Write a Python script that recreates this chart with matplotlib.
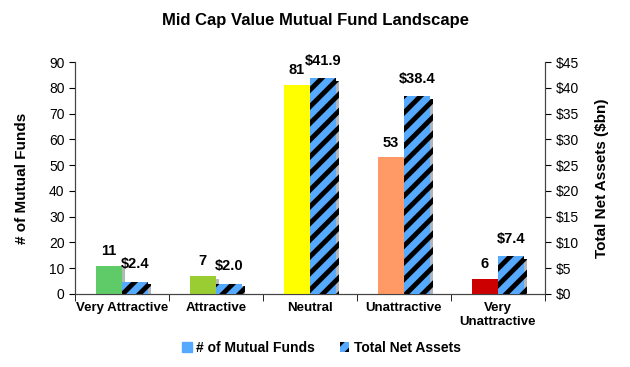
import matplotlib.pyplot as plt
import matplotlib.patheffects as pe
import numpy as np

categories = ['Very Attractive', 'Attractive', 'Neutral', 'Unattractive', 'Very\nUnattractive']
num_funds = [11, 7, 81, 53, 6]
net_assets = [2.4, 2.0, 41.9, 38.4, 7.4]
fund_colors = ['#5ecb68', '#9acd32', '#ffff00', '#ff9966', '#cc0000']

plt.rcParams['font.family'] = ['Liberation Sans', 'DejaVu Sans']
plt.rcParams['hatch.linewidth'] = 3.5

fig = plt.figure(figsize=(6.3, 3.67), dpi=100)
ax = fig.add_axes([0.119, 0.199, 0.746, 0.632])
ax2 = ax.twinx()

x = np.arange(len(categories))
w = 0.28
shadow = [pe.SimplePatchShadow(offset=(2, -2), alpha=0.35), pe.Normal()]

b1 = ax.bar(x - w / 2, num_funds, w, color=fund_colors, edgecolor='none',
            path_effects=shadow, zorder=3)
b2 = ax2.bar(x + w / 2, net_assets, w, color='#55aaff', edgecolor='black',
             linewidth=0, hatch='//', path_effects=shadow, zorder=3)

for xi, v in zip(x, num_funds):
    ax.text(xi - w / 2, v + 3, str(v), ha='center', va='bottom',
            fontsize=10.5, fontweight='bold')
for xi, v in zip(x, net_assets):
    ax2.text(xi + w / 2, v + 2.0, '$%.1f' % v, ha='center', va='bottom',
             fontsize=10.5, fontweight='bold')

ax.set_xlim(-0.5, len(categories) - 0.5)
ax.set_ylim(0, 90)
ax.set_yticks(range(0, 91, 10))
ax2.set_ylim(0, 45)
ax2.set_yticks(range(0, 46, 5))
ax2.set_yticklabels(['$%d' % t for t in range(0, 46, 5)])

ax.set_xticks(x)
ax.set_xticklabels(categories, fontsize=9.5, fontweight='bold')
ax.set_xticks(np.arange(-0.5, len(categories)), minor=True)
ax.tick_params(axis='x', which='major', length=0, pad=6)
ax.tick_params(axis='x', which='minor', length=5, direction='out')
ax.tick_params(axis='y', labelsize=10, length=4)
ax2.tick_params(axis='y', labelsize=10, length=4)

ax.set_ylabel('# of Mutual Funds', fontsize=11, fontweight='bold', labelpad=14)
ax2.set_ylabel('Total Net Assets ($bn)', fontsize=11, fontweight='bold', labelpad=12)

for a in (ax, ax2):
    a.spines['top'].set_visible(False)
    for s in ('left', 'right', 'bottom'):
        a.spines[s].set_color('#444444')

fig.suptitle('Mid Cap Value Mutual Fund Landscape', fontsize=12,
             fontweight='bold', y=0.965)

h1 = plt.Rectangle((0, 0), 1, 1, color='#55aaff')
h2 = plt.Rectangle((0, 0), 1, 1, facecolor='#55aaff', edgecolor='black',
                   linewidth=0, hatch='//')
fig.legend([h1, h2], ['# of Mutual Funds', 'Total Net Assets'],
           loc='lower center', bbox_to_anchor=(0.51, 0.0), ncol=2,
           frameon=False, prop={'weight': 'bold', 'size': 10},
           handlelength=0.7, handleheight=0.7, handletextpad=0.3,
           columnspacing=1.8)

fig.savefig('out.png', dpi=100)
